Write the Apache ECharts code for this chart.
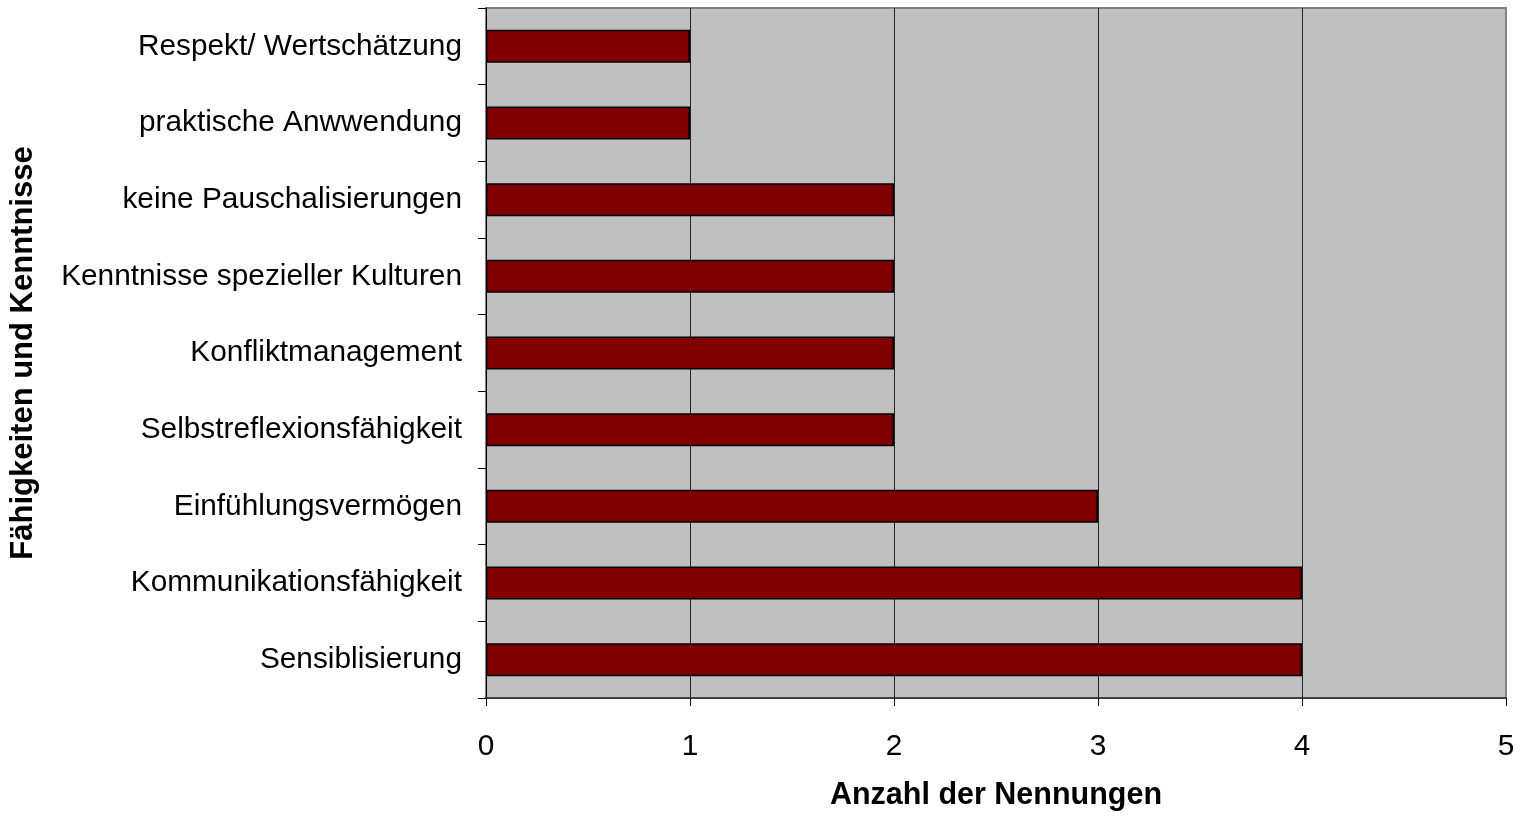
<!DOCTYPE html>
<html>
<head>
<meta charset="utf-8">
<script src="https://cdn.jsdelivr.net/npm/echarts@6/dist/echarts.min.js"></script>
<style>
  html, body { margin: 0; padding: 0; background: #fff; }
  #chart { width: 1519px; height: 816px; }
</style>
</head>
<body>
<div id="chart"></div>
<script>
// Categories listed from top to bottom
const categories = [
  'Respekt/ Wertschätzung',
  'praktische Anwwendung',
  'keine Pauschalisierungen',
  'Kenntnisse spezieller Kulturen',
  'Konfliktmanagement',
  'Selbstreflexionsfähigkeit',
  'Einfühlungsvermögen',
  'Kommunikationsfähigkeit',
  'Sensiblisierung'
];
const counts = [1, 1, 2, 2, 2, 2, 3, 4, 4];
const xTicks = [0, 1, 2, 3, 4, 5];
const xTitle = 'Anzahl der Nennungen';
const yTitle = 'Fähigkeiten und Kenntnisse';

const font = '"Liberation Sans", Arial, sans-serif';
const chart = echarts.init(document.getElementById('chart'));
chart.setOption({
  animation: false,
  textStyle: { fontFamily: font },
  grid: {
    left: 485, top: 8, width: 1021, height: 690,
    show: true, backgroundColor: '#C0C0C0', borderColor: '#808080', borderWidth: 2
  },
  xAxis: {
    type: 'value',
    min: xTicks[0], max: xTicks[xTicks.length - 1], interval: 1,
    name: xTitle,
    nameLocation: 'middle',
    nameGap: 82,
    nameTextStyle: { fontFamily: font, fontSize: 30.5, fontWeight: 'bold', color: '#000' },
    axisLine: { show: true, lineStyle: { color: '#404040', width: 2 } },
    axisTick: { show: true, length: 8, lineStyle: { color: '#000', width: 1 } },
    axisLabel: { fontFamily: font, fontSize: 29.8, color: '#000', margin: 34 },
    splitLine: { show: true, lineStyle: { color: ['#C0C0C0', '#222', '#222', '#222', '#222', '#808080'], width: 1 } }
  },
  yAxis: {
    type: 'category',
    data: categories,
    inverse: true,
    name: yTitle,
    nameLocation: 'middle',
    nameRotate: 90,
    nameGap: 447,
    nameTextStyle: { fontFamily: font, fontSize: 31, fontWeight: 'bold', color: '#000' },
    axisLine: { show: true, lineStyle: { color: '#000', width: 1 } },
    axisTick: { show: true, length: 8, lineStyle: { color: '#000', width: 1 } },
    axisLabel: { fontFamily: font, fontSize: 29.8, color: '#000', margin: 24 },
    splitLine: { show: false }
  },
  series: [{
    type: 'bar',
    data: counts,
    barWidth: 33,
    itemStyle: { color: '#800000', borderColor: '#000', borderWidth: 1.5 }
  }]
});
</script>
</body>
</html>
